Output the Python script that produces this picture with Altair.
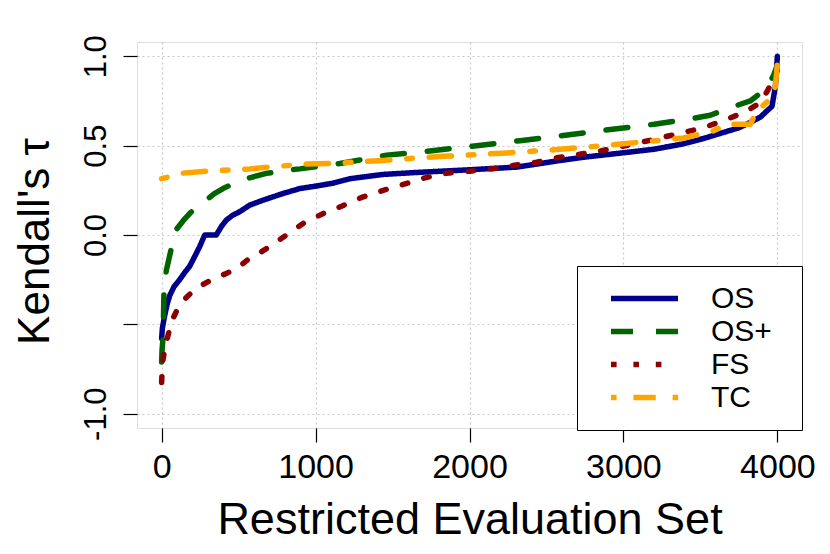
import altair as alt
import pandas as pd

# ---- data ----
os_x = [0, 5, 20, 35, 52, 80, 117, 150, 182, 215, 247, 280, 355, 390, 420, 460,
        507, 572, 659, 780, 898, 1006, 1114, 1223, 1440, 1657, 2000, 2307, 2589,
        2740, 2999, 3200, 3390, 3520, 3650, 3750, 3824, 3890, 3933, 3965, 3987, 4000]
os_y = [-0.58, -0.52, -0.45, -0.39, -0.34, -0.29, -0.25, -0.21, -0.175, -0.12,
        -0.065, 0.0, 0.0, 0.05, 0.083, 0.11, 0.13, 0.167, 0.195, 0.23, 0.26, 0.274,
        0.29, 0.315, 0.339, 0.35, 0.365, 0.38, 0.417, 0.435, 0.46, 0.48, 0.51,
        0.54, 0.574, 0.60, 0.63, 0.66, 0.695, 0.72, 0.83, 1.0]

osp_x = [0, 3, 10, 15, 30, 63, 95, 140, 182, 230, 290, 340, 399, 470, 551, 680,
         832, 898, 1158, 1461, 1743, 2047, 2328, 2589, 2914, 3200, 3434, 3564,
         3694, 3824, 3922, 3974, 4000]
osp_y = [-0.71, -0.64, -0.565, -0.32, -0.2, -0.075, 0.03, 0.08, 0.12, 0.16, 0.195,
         0.23, 0.26, 0.29, 0.315, 0.345, 0.365, 0.37, 0.40, 0.447, 0.47, 0.5,
         0.528, 0.555, 0.59, 0.62, 0.65, 0.67, 0.713, 0.75, 0.815, 0.89, 0.95]

fs_x = [0, 5, 20, 45, 72, 100, 137, 190, 247, 300, 355, 420, 486, 572, 640, 702,
        760, 811, 919, 1050, 1169, 1299, 1440, 1570, 1711, 1852, 2003, 2144, 2284,
        2437, 2567, 2849, 3174, 3519, 3650, 3780, 3890, 3941, 3994, 4000]
fs_y = [-0.825, -0.72, -0.64, -0.55, -0.47, -0.42, -0.37, -0.325, -0.287, -0.262,
        -0.24, -0.215, -0.19, -0.13, -0.098, -0.065, -0.03, 0.0, 0.065, 0.12,
        0.161, 0.21, 0.25, 0.283, 0.32, 0.346, 0.357, 0.37, 0.389, 0.407, 0.432,
        0.47, 0.53, 0.6, 0.64, 0.685, 0.74, 0.815, 0.91, 0.92]

tc_x = [0, 137, 300, 572, 941, 1093, 1440, 1634, 1829, 2242, 2567, 2999, 3390,
        3586, 3673, 3824, 3868, 3954, 3987, 4000]
tc_y = [0.315, 0.346, 0.358, 0.37, 0.398, 0.40, 0.417, 0.43, 0.44, 0.459, 0.478,
        0.51, 0.543, 0.583, 0.62, 0.62, 0.695, 0.76, 0.83, 0.96]

series = ["OS", "OS+", "FS", "TC"]
colors = ["#00008B", "#006400", "#8B0000", "#FFA500"]
dashes = [[1, 0], [22, 23], [5.6, 16.8], [5.6, 16.8, 22.4, 16.8]]

x_ticks = [0, 1000, 2000, 3000, 4000]
y_ticks = [-1.0, -0.5, 0.0, 0.5, 1.0]

rows = []
for name, xs, ys in [("OS", os_x, os_y), ("OS+", osp_x, osp_y),
                     ("FS", fs_x, fs_y), ("TC", tc_x, tc_y)]:
    for i, (a, b) in enumerate(zip(xs, ys)):
        rows.append({"series": name, "x": a, "tau": b, "i": i})
df = pd.DataFrame(rows)

FONT = "Liberation Sans"

chart = alt.Chart(df).mark_line(strokeWidth=5.5, strokeCap="round", strokeJoin="round").encode(
    x=alt.X("x:Q",
            scale=alt.Scale(domain=[-160, 4160], nice=False, zero=False),
            axis=alt.Axis(values=x_ticks, format="d", title="Restricted Evaluation Set",
                          labelFontSize=34, labelFont=FONT, labelColor="black",
                          labelPadding=8, labelFlush=False, labelOverlap=False,
                          tickSize=14, tickColor="black", tickWidth=1.2,
                          domain=False, grid=True, gridColor="#c8c8c8",
                          gridDash=[2, 3], gridWidth=1.2,
                          titleFont=FONT, titleFontSize=45, titleFontWeight="normal",
                          titleColor="black", titleBaseline="alphabetic",
                          titleY=105)),
    y=alt.Y("tau:Q",
            scale=alt.Scale(domain=[-1.08, 1.08], nice=False, zero=False),
            axis=alt.Axis(values=y_ticks, title="Kendall's τ",
                          labelExpr="datum.value == 1 ? '1.0' : datum.value == 0.5 ? '0.5' : datum.value == 0 ? '0.0' : datum.value == -1 ? '-1.0' : ''",
                          labelFontSize=31, labelFont=FONT, labelColor="black",
                          labelAngle=270, labelAlign="center", labelBaseline="alphabetic",
                          labelPadding=18, labelFlush=False, labelOverlap=False,
                          tickSize=14, tickColor="black", tickWidth=1.2,
                          domain=False, grid=True, gridColor="#c8c8c8",
                          gridDash=[2, 3], gridWidth=1.2,
                          titleFont=FONT, titleFontSize=44, titleFontWeight="normal",
                          titleColor="black", titleAngle=270, titleAlign="center",
                          titleBaseline="alphabetic", titleX=-89, titleY=199)),
    color=alt.Color("series:N",
                    scale=alt.Scale(domain=series, range=colors),
                    legend=alt.Legend(orient="none", legendX=440, legendY=224,
                                      title=".", titleOrient="right",
                                      titleColor="white", titleFontSize=12,
                                      titlePadding=10,
                                      symbolType="stroke",
                                      symbolSize=4489, symbolStrokeWidth=5.5,
                                      clipHeight=33, rowPadding=0,
                                      symbolOffset=15, labelOffset=30,
                                      labelFont=FONT, labelFontSize=30,
                                      labelColor="black", padding=16,
                                      strokeColor="black", fillColor="white")),
    strokeDash=alt.StrokeDash("series:N",
                              scale=alt.Scale(domain=series, range=dashes),
                              legend=None),
    order=alt.Order("i:Q"),
).properties(
    width=665, height=386,
    autosize=alt.AutoSizeParams(type="none"),
    padding={"left": 129, "top": 34, "right": 20, "bottom": 118},
).configure_view(stroke="black", strokeWidth=1.5).configure(background="white")

chart.save("out.html", embed_options={"renderer": "svg", "actions": False})
